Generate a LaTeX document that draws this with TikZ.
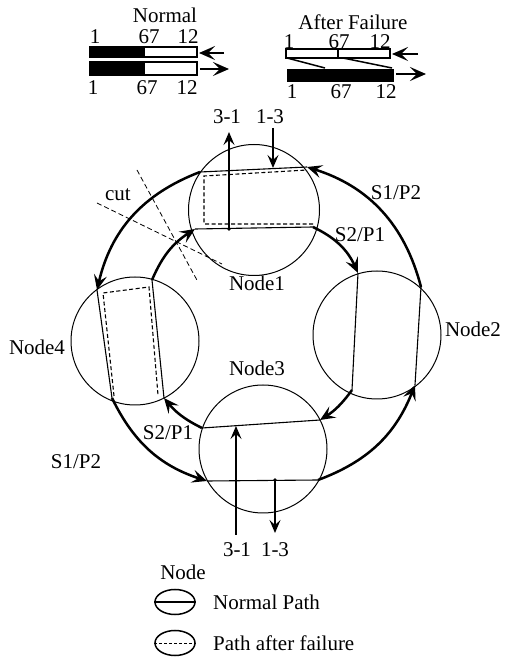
\documentclass[tikz,border=0pt]{standalone}
\usepackage{fontspec}
\setmainfont{Liberation Serif}
\usetikzlibrary{arrows.meta,shapes.geometric}
\begin{document}
\begin{tikzpicture}[x=1pt,y=1pt,
  lbl/.style={font=\fontsize{21}{23}\selectfont, inner sep=0pt},
  nodecirc/.style={draw, circle, line width=1pt, minimum size=128pt, inner sep=0pt},
  ring/.style={line width=2.5pt, -{Stealth[length=15pt,width=13pt,inset=6pt]}},
  pathline/.style={line width=1.1pt},
  failline/.style={line width=1.1pt, dash pattern=on 4pt off 2.5pt},
  thinarrow/.style={line width=1.2pt, -{Stealth[length=13pt,width=11pt,inset=5pt]}},
  bararrow/.style={line width=1.6pt, -{Stealth[length=16pt,width=14pt,inset=7pt]}},
  cutline/.style={line width=0.8pt, dash pattern=on 5pt off 3pt},
  barbox/.style={line width=1.5pt},
  legell/.style={draw, ellipse, line width=1.5pt, minimum width=40pt, minimum height=25pt, inner sep=0pt},
]
\useasboundingbox (0,0) rectangle (509,657);

% ---------- Normal bars ----------
\node[lbl] (tnormal) at (165,642) {Normal};
\fill (90,600) rectangle (145,610);
\draw[barbox] (90,600) rectangle (197,610);
\fill (90,582) rectangle (145,595);
\draw[barbox] (90,582) rectangle (197,595);
\node[lbl] (na1) at (95,620) {1};
\node[lbl] (na2) at (149,620) {67};
\node[lbl] (na3) at (188,620) {12};
\node[lbl] (nb1) at (93,569) {1};
\node[lbl] (nb2) at (147,569) {67};
\node[lbl] (nb3) at (187,569) {12};
\coordinate (nl1) at (224,604);
\coordinate (nl2) at (199,604);
\coordinate (nr1) at (200,588);
\coordinate (nr2) at (229,588);
\draw[bararrow] (nl1) -- (nl2);
\draw[bararrow] (nr1) -- (nr2);

% ---------- After failure bars ----------
\node[lbl] (tafter) at (353,635) {After Failure};
\draw[barbox] (286,599) rectangle (390,608);
\draw[barbox] (338,599) -- (338,608);
\fill (287,575) rectangle (394,588);
\draw[barbox] (287,599) -- (325,589);
\draw[barbox] (343,599) -- (392,589);
\node[lbl] (fa1) at (289,615) {1};
\node[lbl] (fa2) at (339,615) {67};
\node[lbl] (fa3) at (380,615) {12};
\node[lbl] (fb1) at (292,565) {1};
\node[lbl] (fb2) at (341,565) {67};
\node[lbl] (fb3) at (386,565) {12};
\coordinate (fl1) at (418,603);
\coordinate (fl2) at (392,603);
\coordinate (fr1) at (396,583);
\coordinate (fr2) at (426,583);
\draw[bararrow] (fl1) -- (fl2);
\draw[bararrow] (fr1) -- (fr2);

% ---------- Node circles ----------
\node[nodecirc, minimum size=131pt] (n1) at (254,447) {};
\node[nodecirc] (n2) at (377,322) {};
\node[nodecirc] (n3) at (263,208) {};
\node[nodecirc] (n4) at (135,316) {};

\node[lbl] (ln1) at (257,374) {Node1};
\node[lbl] (ln2) at (473,328) {Node2};
\node[lbl] (ln3) at (257,289) {Node3};
\node[lbl] (ln4) at (37,310) {Node4};

% ---------- path end points ----------
\coordinate (o1a) at (200,485);
\coordinate (o1b) at (307,490);
\coordinate (i1a) at (195,428);
\coordinate (i1b) at (313,430);
\coordinate (i2a) at (358,384);
\coordinate (i2b) at (352,267);
\coordinate (o2a) at (421,370);
\coordinate (o2b) at (415,272);
\coordinate (i3a) at (320,237);
\coordinate (i3b) at (202,229);
\coordinate (o3a) at (207,176);
\coordinate (o3b) at (318,177);
\coordinate (i4a) at (164,259);
\coordinate (i4b) at (152,377);
\coordinate (o4a) at (97,367);
\coordinate (o4b) at (112,259);

% ---------- ring arcs ----------
\draw[ring] (o2a) to[bend right=29] (o1b);
\draw[ring] (o1a) to[bend right=28] (o4a);
\draw[ring] (o4b) to[bend right=23] (o3a);
\draw[ring] (o3b) to[bend right=24] (o2b);
\draw[ring] (i1b) to[bend left=20] (i2a);
\draw[ring] (i2b) to[bend left=11] (i3a);
\draw[ring] (i3b) to[bend left=12] (i4a);
\draw[ring] (i4b) to[bend left=17] (i1a);

% ---------- normal paths inside nodes ----------
\draw[pathline] (o1a) -- (o1b);
\draw[pathline] (i1a) -- (i1b);
\draw[pathline] (i2a) -- (i2b);
\draw[pathline] (o2a) -- (o2b);
\draw[pathline] (i3a) -- (i3b);
\draw[pathline] (o3a) -- (o3b);
\draw[pathline] (o4a) -- (o4b);
\draw[pathline] (i4b) -- (i4a);

% ---------- paths after failure ----------
\draw[failline] (313,433) -- (204,433) -- (204,481) -- (307,487);
\draw[failline] (114,261) -- (103,364) -- (149,370) -- (158,262);

% ---------- add/drop arrows ----------
\coordinate (d1) at (229,428);
\coordinate (t31) at (229,525);
\coordinate (s13) at (273,529);
\coordinate (e13) at (273,489);
\fill (d1) circle (1.8);
\draw[thinarrow] (d1) -- (t31);
\draw[thinarrow] (s13) -- (e13);
\node[lbl] (l31a) at (227,540) {3-1};
\node[lbl] (l13a) at (270,540) {1-3};

\coordinate (s31b) at (236,122);
\coordinate (e31b) at (236,231);
\coordinate (d3) at (275,177);
\coordinate (e13b) at (275,124);
\fill (d3) circle (1.8);
\draw[thinarrow] (s31b) -- (e31b);
\draw[thinarrow] (d3) -- (e13b);
\node[lbl] (l31b) at (237,107) {3-1};
\node[lbl] (l13b) at (275,107) {1-3};

% ---------- ring labels ----------
\node[lbl] (s1p2a) at (396,464) {S1/P2};
\node[lbl] (s2p1a) at (360,422) {S2/P1};
\node[lbl] (s2p1b) at (168,224) {S2/P1};
\node[lbl] (s1p2b) at (76,195) {S1/P2};

% ---------- cut ----------
\coordinate (c1a) at (137,487);
\coordinate (c1b) at (198,375);
\coordinate (c2a) at (97,454);
\coordinate (c2b) at (222,393);
\draw[cutline] (c1a) -- (c1b);
\draw[cutline] (c2a) -- (c2b);
\node[lbl] (lcut) at (118,462) {cut};

% ---------- legend ----------
\node[lbl] (lnode) at (183,85) {Node};
\node[legell] (e1) at (175,55) {};
\draw[line width=1.6pt] (e1.west) -- (e1.east);
\node[lbl, anchor=west] (lnp) at (213,55) {Normal Path};
\node[legell] (e2) at (175,14) {};
\draw[line width=0.8pt, dash pattern=on 3pt off 2pt] (e2.west) -- (e2.east);
\node[lbl, anchor=west] (lpf) at (213,14) {Path after failure};
\end{tikzpicture}
\end{document}
